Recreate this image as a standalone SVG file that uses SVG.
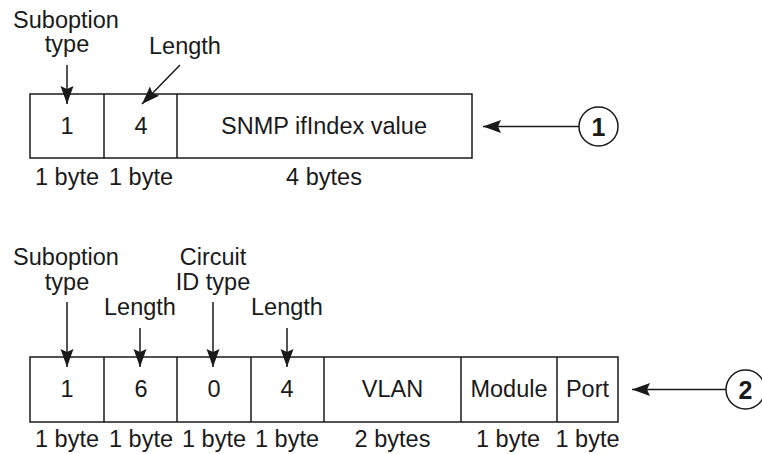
<svg xmlns="http://www.w3.org/2000/svg" width="762" height="454" viewBox="0 0 762 454">
<defs>
<marker id="ah" viewBox="-19 -8 20 16" refX="0" refY="0" markerWidth="20" markerHeight="16" markerUnits="userSpaceOnUse" orient="auto">
<path d="M0,0 L-18,-6.5 L-15,0 L-18,6.5 Z" fill="#1a1a1a"/>
</marker>
<style>
text{font-family:"Liberation Sans",Arial,Helvetica,sans-serif;font-size:23.5px;fill:#1a1a1a;text-anchor:middle}
.b{font-weight:bold;font-size:25px}
.box{fill:#fff;stroke:#1a1a1a;stroke-width:1.5}
.ln{stroke:#1a1a1a;stroke-width:1.5;fill:none}
.c{fill:#fff;stroke:#1a1a1a;stroke-width:1.5}
</style>
</defs>
<rect width="762" height="454" fill="#fff"/>

<g id="labels-top">
<text x="66" y="28">Suboption</text>
<text x="67" y="52">type</text>
<text x="185" y="54">Length</text>
</g>

<g id="packet1">
<rect class="box" x="30" y="94" width="442" height="64"/>
<line class="ln" x1="104" y1="94" x2="104" y2="158"/>
<line class="ln" x1="177" y1="94" x2="177" y2="158"/>
<text x="67" y="134">1</text>
<text x="141" y="134">4</text>
<text x="324" y="134">SNMP ifIndex value</text>
<text x="67" y="185">1 byte</text>
<text x="141" y="185">1 byte</text>
<text x="324" y="185">4 bytes</text>
</g>

<g id="callout1">
<circle class="c" cx="598.5" cy="126.5" r="19.5"/>
<text class="b" x="598.5" y="135.5">1</text>
</g>

<g id="labels-bottom">
<text x="66" y="265">Suboption</text>
<text x="67" y="290">type</text>
<text x="213" y="265">Circuit</text>
<text x="213" y="290">ID type</text>
<text x="140" y="315">Length</text>
<text x="287" y="315">Length</text>
</g>

<g id="packet2">
<rect class="box" x="30" y="357" width="588" height="65"/>
<line class="ln" x1="104" y1="357" x2="104" y2="422"/>
<line class="ln" x1="177" y1="357" x2="177" y2="422"/>
<line class="ln" x1="251" y1="357" x2="251" y2="422"/>
<line class="ln" x1="324" y1="357" x2="324" y2="422"/>
<line class="ln" x1="461" y1="357" x2="461" y2="422"/>
<line class="ln" x1="557" y1="357" x2="557" y2="422"/>
<text x="67" y="397">1</text>
<text x="141" y="397">6</text>
<text x="214" y="397">0</text>
<text x="287" y="397">4</text>
<text x="392.5" y="397">VLAN</text>
<text x="509" y="397">Module</text>
<text x="587.5" y="397">Port</text>
<text x="67" y="447">1 byte</text>
<text x="141" y="447">1 byte</text>
<text x="214" y="447">1 byte</text>
<text x="287" y="447">1 byte</text>
<text x="392.5" y="447">2 bytes</text>
<text x="508" y="447">1 byte</text>
<text x="587.5" y="447">1 byte</text>
</g>

<g id="callout2">
<circle class="c" cx="745.5" cy="389.5" r="19.5"/>
<text class="b" x="745.5" y="398.5">2</text>
</g>

<g id="connectors">
<line class="ln" x1="67" y1="65" x2="67" y2="104" marker-end="url(#ah)"/>
<line class="ln" x1="180" y1="65" x2="142" y2="104" marker-end="url(#ah)"/>
<line class="ln" x1="579" y1="126.5" x2="483" y2="126.5" marker-end="url(#ah)"/>
<line class="ln" x1="67" y1="302" x2="67" y2="367" marker-end="url(#ah)"/>
<line class="ln" x1="140" y1="328" x2="140" y2="367" marker-end="url(#ah)"/>
<line class="ln" x1="213" y1="302" x2="213" y2="367" marker-end="url(#ah)"/>
<line class="ln" x1="287" y1="328" x2="287" y2="367" marker-end="url(#ah)"/>
<line class="ln" x1="726" y1="389.5" x2="632" y2="389.5" marker-end="url(#ah)"/>
</g>
</svg>
